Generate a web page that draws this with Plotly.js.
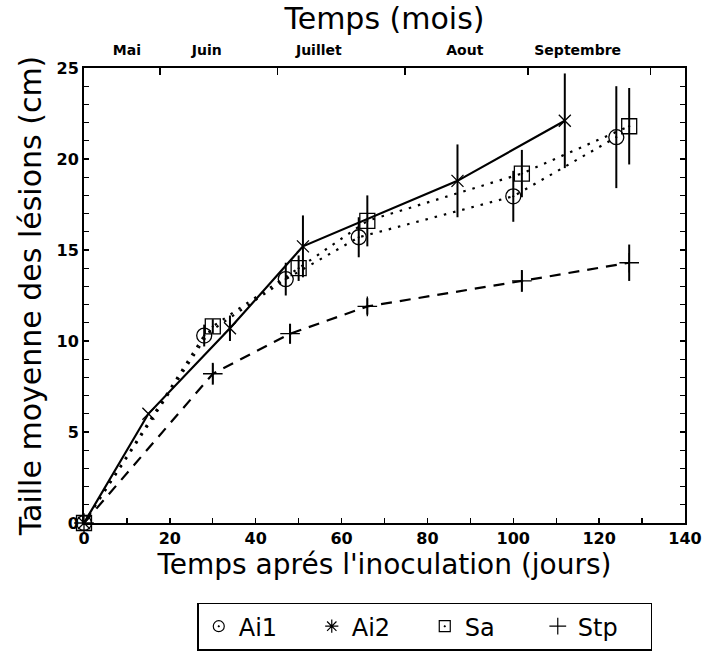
<!DOCTYPE html>
<html>
<head>
<meta charset="utf-8">
<script src="https://cdn.plot.ly/plotly-3.0.1.min.js"></script>
<style>html,body{margin:0;padding:0;background:#fff;}#chart{width:703px;height:663px;}</style>
</head>
<body>
<div id="chart"></div>
<script>
// Data
const daysAi1 = [0, 28, 47, 64, 100, 124];
const valAi1  = [0, 10.3, 13.4, 15.7, 17.95, 21.2];
const errAi1  = [0, 0.6, 0.9, 1.1, 1.4, 2.8];

const daysAi2 = [0, 15, 34, 51, 87, 112];
const valAi2  = [0, 6.0, 10.7, 15.2, 18.8, 22.1];
const errAi2  = [0, 0, 0.7, 1.7, 2.0, 2.6];

const daysSa = [0, 30, 50, 66, 102, 127];
const valSa  = [0, 10.8, 14.0, 16.6, 19.2, 21.8];
const errSa  = [0, 0.4, 0.7, 1.4, 1.3, 2.1];

const daysStp = [0, 30, 48, 66, 102, 127];
const valStp  = [0, 8.2, 10.4, 11.9, 13.3, 14.3];
const errStp  = [0, 0.6, 0.55, 0.45, 0.6, 1.0];

const monthNames = ["Mai", "Juin", "Juillet", "Aout", "Septembre"];
const monthLabelDays = [10, 28.6, 54.7, 88.7, 115];
const monthBoundaryDays = [17.7, 45, 74.8, 103.4, 132];

const xTickVals = [0, 20, 40, 60, 80, 100, 120, 140];
const yTickVals = [0, 5, 10, 15, 20, 25];

const FONT = "DejaVu Sans";
const black = "#000";

function lineTrace(x, y, dash) {
  return {x: x, y: y, mode: "lines", type: "scatter", showlegend: false, hoverinfo: "skip",
    line: {color: black, width: 2.2, dash: dash}};
}
function markTrace(name, x, y, err, symbol, size) {
  return {x: x, y: y, name: name, mode: "markers", type: "scatter", showlegend: false, cliponaxis: false,
    marker: {symbol: symbol, size: size, color: black, line: {color: black, width: 1.3}},
    error_y: {type: "data", array: err, visible: true, color: black, thickness: 2, width: 0}};
}
function legendTrace(name, symbol, size) {
  return {x: [null], y: [null], name: name, mode: "markers", type: "scatter", showlegend: true,
    marker: {symbol: symbol, size: size, color: black, line: {color: black, width: 1.2}}};
}

const traces = [
  lineTrace(daysAi1, valAi1, "2.5px,7px"),
  lineTrace(daysSa, valSa, "2.5px,7px"),
  lineTrace(daysAi2, valAi2, "solid"),
  lineTrace(daysStp, valStp, "11px,8px"),
  markTrace("Ai1", daysAi1, valAi1, errAi1, "circle-open-dot", 15),
  markTrace("Ai2", daysAi2, valAi2, errAi2, "x-thin-open", 12),
  markTrace("Sa", daysSa, valSa, errSa, "square-open-dot", 15),
  markTrace("Stp", daysStp, valStp, errStp, "cross-thin-open", 14),
  legendTrace("Ai1", "circle-open-dot", 11),
  legendTrace("Ai2", "asterisk-open", 11),
  legendTrace("Sa", "square-open-dot", 11),
  legendTrace("Stp", "cross-thin-open", 12),
  {x: [0, 140], y: [null, null], xaxis: "x2", mode: "markers", showlegend: false, hoverinfo: "skip"},
  {x: [0, 140], y: [null, null], xaxis: "x3", mode: "markers", showlegend: false, hoverinfo: "skip"}
];

const layout = {
  width: 703, height: 663,
  margin: {l: 84, r: 18, t: 68, b: 140},
  paper_bgcolor: "#fff", plot_bgcolor: "#fff",
  font: {family: FONT, color: black},
  title: {text: "Temps (mois)", font: {family: FONT, size: 30, color: black},
    x: 0.5, xref: "paper", xanchor: "center", y: 0.972, yref: "container", yanchor: "middle"},
  showlegend: true,
  legend: {orientation: "h", x: 0.567, y: -0.175, xanchor: "center", yanchor: "top",
    bordercolor: black, borderwidth: 1.5, font: {family: FONT, size: 24, color: black},
    entrywidth: 68, itemwidth: 30, tracegroupgap: 0},
  xaxis: {
    range: [0, 140], showgrid: false, zeroline: false,
    showline: true, linecolor: black, linewidth: 2, mirror: true,
    tickvals: xTickVals, ticks: "inside", ticklen: 5, tickwidth: 1.3, tickcolor: black,
    minor: {dtick: 10, tick0: 0, ticks: "inside", ticklen: 5, tickwidth: 1.3, tickcolor: black},
    tickfont: {family: FONT, size: 16, color: black, weight: "bold"},
    title: {text: "Temps aprés l'inoculation (jours)", font: {family: FONT, size: 28, color: black}, standoff: 3}
  },
  xaxis2: {
    overlaying: "x", side: "top", range: [0, 140], showgrid: false, zeroline: false, showline: false,
    tickvals: monthBoundaryDays, ticks: "inside", ticklen: 7, tickwidth: 1.3, tickcolor: black,
    showticklabels: false
  },
  xaxis3: {
    overlaying: "x", side: "top", range: [0, 140], showgrid: false, zeroline: false, showline: false,
    tickvals: monthLabelDays, ticktext: monthNames, ticks: "outside", ticklen: 6, tickcolor: "rgba(0,0,0,0)",
    tickfont: {family: FONT, size: 14, color: black, weight: "bold"}
  },
  yaxis: {
    range: [0, 25], showgrid: false, zeroline: false,
    showline: true, linecolor: black, linewidth: 2, mirror: "ticks",
    tickvals: yTickVals, ticks: "inside", ticklen: 5, tickwidth: 1.3, tickcolor: black,
    minor: {dtick: 1, tick0: 0, ticks: "inside", ticklen: 5, tickwidth: 1.3, tickcolor: black},
    tickfont: {family: FONT, size: 16, color: black, weight: "bold"},
    title: {text: "Taille moyenne des lésions (cm)", font: {family: FONT, size: 30, color: black}, standoff: 6}
  }
};

Plotly.newPlot("chart", traces, layout, {displayModeBar: false, staticPlot: true});
</script>
</body>
</html>
